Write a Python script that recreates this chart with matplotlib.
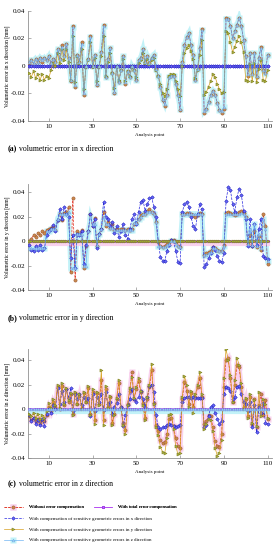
import numpy as np
import matplotlib
matplotlib.use("Agg")
import matplotlib.pyplot as plt
import matplotlib.lines as mlines
import matplotlib.transforms as mtransforms

plt.rcParams['font.family'] = ['Liberation Serif', 'DejaVu Serif']

# analysis points 1..110, errors in micrometres
points = list(range(1, 111))

# (a) x direction
a_without = [2, 4, 1, 5, 3, 6, 3, 6, 4, 7,
             2, 5, 3, 12, 5, 15, 7, 16, 6, -11,
             29, -15, 8, 3, 17, -21, 0, 5, 22, 0,
             8, -14, 0, 10, 30, -8, 5, 13, -5, -20,
             0, -12, -3, 7, -13, -4, -8, 0, -3, -10,
             4, 6, 12, 3, 7, 2, 6, 8, -2, -7,
             -15, -25, -29, -21, -8, -7, -7, -13, -21, -32,
             3, 15, 21, 24, 15, 8, -10, -2, 13, 27,
             -34, -31, -26, -21, -18, -21, -27, -32, -34, -31,
             35, 34, 29, 20, 25, 30, 35, 29, 19, 7,
             -7, 9, -6, 9, -8, 6, 14, -3, -5, 8]
a_total = [0.0] * 110
a_xcomp = [0.0] * 110
a_ycomp = [-5, -8, -4, -9, -6, -10, -6, -10, -7, -9,
           -3, 2, 0, 9, 2, 12, 4, 12, 3, -10,
           22, -12, 7, 2, 12, -17, -1, 4, 17, -1,
           6, -11, -1, 7, 22, -7, 3, 9, -5, -16,
           -1, -10, -3, 5, -11, -4, -7, -1, -3, -8,
           2, 4, 9, 2, 5, 1, 4, 6, -3, -7,
           -13, -20, -22, -17, -7, -6, -6, -11, -17, -22,
           0, 9, 13, 15, 11, 5, -9, -3, 8, 19,
           -21, -19, -15, -11, -6, -8, -13, -17, -20, -19,
           25, 24, 17, 10, 14, 18, 22, 17, 10, -10,
           -11, 1, -11, 2, -12, -2, 4, -10, -11, -3]
a_zcomp = [3, 4, 2, 5, 3, 6, 4, 6, 4, 7,
           2, 5, 3, 12, 5, 14, 7, 16, 6, -10,
           28, -14, 8, 3, 16, -20, 0, 5, 21, 0,
           8, -13, 0, 10, 29, -8, 5, 13, -5, -19,
           0, -12, -3, 7, -12, -4, -8, 0, -3, -10,
           4, 6, 12, 3, 7, 2, 6, 8, -2, -7,
           -15, -24, -28, -21, -8, -7, -7, -13, -21, -31,
           3, 15, 21, 24, 15, 8, -10, -2, 13, 26,
           -33, -31, -26, -21, -18, -21, -27, -32, -33, -30,
           34, 34, 29, 20, 25, 30, 35, 29, 19, 7,
           -6, 9, -6, 9, -7, 6, 13, -3, -5, 8]

# (b) y direction
b_without = [0, 2, 5, 3, 7, 5, 8, 7, 9, 10,
             11, 12, 9, 17, 22, 17, 23, 24, 28, -25,
             35, -32, 8, 6, 9, -22, -4, 8, 22, 12,
             19, -4, 6, 10, 24, 12, 16, 11, 14, 9,
             10, 9, 10, 10, 9, 10, 9, 10, 14, 15,
             18, 21, 22, 22, 25, 26, 24, 22, 16, -1,
             -4, -5, -4, -2, -1, 1, 1, -1, -4, -5,
             22, 22, 23, 22, 22, 21, 20, 21, 23, 22,
             -11, -10, -9, -8, -5, -6, -7, -8, -8, -3,
             23, 24, 23, 22, 21, 22, 24, 25, 23, 20,
             -2, 5, -4, 8, -5, 4, -7, 22, 12, -19]
b_total = [0.0] * 110
b_xcomp = [-3, -7, -8, -4, -7, -3, -7, -6, 5, 8,
           10, 13, 8, 17, 26, 18, 28, 22, 20, -14,
           5, -22, 6, 5, 8, -19, -3, 8, 22, 12,
           18, -6, 6, 10, 32, 20, 18, 12, 16, 7,
           12, 3, 8, 14, 5, 2, 10, 18, 22, 14,
           24, 32, 34, 25, 30, 35, 36, 28, 20, 0,
           -13, -16, -16, -8, -3, 1, 0, -8, -17, -18,
           24, 30, 32, 28, 20, 12, 10, 22, 30, 26,
           -21, -19, -14, -10, -5, -7, -12, -16, -17, -10,
           33, 44, 42, 30, 24, 36, 43, 38, 25, 18,
           -4, 18, -4, 14, -3, 10, 18, -12, -14, -15]
b_ycomp = [0.0] * 110
b_zcomp = [-6, -6, -6, -6, -6, -6, -6, -6, 8, 8,
           10, 10, 10, 18, 22, 22, 22, 22, 24, -22,
           -22, -22, 6, 6, 6, -20, -20, 8, 20, 14,
           14, -3, 6, 10, 20, 14, 14, 11, 11, 9,
           9, 9, 9, 9, 9, 9, 9, 9, 15, 15,
           18, 20, 22, 22, 24, 24, 24, 22, 16, -4,
           -4, -5, -5, -3, -2, 0, 0, -2, -4, -5,
           22, 22, 22, 22, 22, 22, 22, 22, 22, 22,
           -11, -11, -10, -9, -6, -6, -7, -8, -8, -4,
           22, 22, 22, 22, 22, 22, 22, 23, 22, 20,
           -2, 10, -3, 14, -4, 6, -6, 18, 10, -16]

# (c) z direction
c_without = [-6, -9, -7, -10, -8, -11, -9, -10, -5, 2,
             -2, 6, 2, 18, 0, 19, 3, 16, 6, 12,
             -4, 13, 4, 11, 1, 13, 6, 17, -4, 14,
             -9, 13, 4, 24, -9, 16, 2, 10, -11, -4,
             8, 21, 2, -11, -17, 4, 15, 30, 8, 16,
             23, 14, 5, -7, 8, 18, 32, 5, -13, -18,
             -25, -28, -27, -20, -8, -7, -14, -24, -30, -32,
             8, 22, 15, 4, 13, 2, 10, 18, 25, 10,
             -12, -10, -5, -6, -15, -26, -30, -31, -20, 18,
             40, 42, 25, 6, 20, 36, 34, 18, 2, 8,
             -6, 10, -12, 8, -15, 3, 12, -5, 7, -8]
c_total = [0.0] * 110
c_xcomp = [-5, -10, -7, -12, -9, -13, -8, -14, -4, 0,
           -3, 3, 0, 17, 4, 15, 6, 16, 9, 17,
           -2, 12, 8, 12, 3, 10, 8, 9, -6, 12,
           -2, 10, 6, 12, -1, 14, 4, 6, -4, 2,
           5, 12, 2, -14, -5, 3, 8, 16, 8, 6,
           10, 15, 8, 2, 10, 19, 20, 14, -5, -15,
           -16, -15, -15, -13, -12, -13, -14, -15, -14, -13,
           6, 9, 10, 10, 9, 10, 9, 9, 9, 9,
           -15, -13, -6, 2, 3, -3, -8, -12, -10, 12,
           18, 17, 15, 8, 10, 18, 19, 12, 6, 4,
           -2, 6, -15, 3, -19, 2, -3, 5, -11, -12]
c_ycomp = [-4, -6, -3, -7, -4, -8, -5, -7, -2, 5,
           1, 8, 3, 20, 1, 21, 4, 17, 7, 13,
           -5, 14, 4, 12, 0, 14, 6, 19, -5, 16,
           -12, 14, 3, 32, -13, 19, 1, 11, -13, -5,
           9, 24, 0, -13, -20, 3, 17, 26, 9, 18,
           25, 15, 3, -9, 10, 20, 37, 4, -15, -21,
           -31, -35, -36, -24, -5, -4, -16, -30, -37, -36,
           10, 27, 20, 2, 15, -3, 12, 20, 30, 12,
           -16, -12, -8, -9, -18, -32, -38, -36, -25, 25,
           49, 40, 28, 6, 24, 42, 36, 21, 0, 9,
           -7, 12, -11, 7, -14, 14, -6, 8, 4, -7]
c_zcomp = [0.0] * 110

panels = [
    ("x", a_without, a_total, a_xcomp, a_ycomp, a_zcomp),
    ("y", b_without, b_total, b_xcomp, b_ycomp, b_zcomp),
    ("z", c_without, c_total, c_xcomp, c_ycomp, c_zcomp),
]
captions = ["volumetric error in x direction",
            "volumetric error in y direction",
            "volumetric error in z direction"]
caption_tags = ["(a)", "(b)", "(c)"]
legend_labels = ["Without error compensation",
                 "With total error compensation",
                 "With compensation of sensitive geometric errors in x direction",
                 "With compensation of sensitive geometric errors in y direction",
                 "With compensation of sensitive geometric errors in z direction"]

# axes boxes [left, bottom, width, height] and y limits
boxes = [[0.102, 0.780, 0.887, 0.2005],
         [0.102, 0.4727, 0.887, 0.1933],
         [0.102, 0.1673, 0.887, 0.198]]
ylims = [(-0.04, 0.04), (-0.04, 0.047), (-0.04, 0.049)]
caption_y = [1 - 149 / 550, 1 - 318 / 550, 1 - 484 / 550]

pink = '#f9d2ee'
cyan = '#c2f2f8'

fig = plt.figure(figsize=(2.75, 5.5), dpi=100)
handles = None
for i, (d, wo, tot, xc, yc, zc) in enumerate(panels):
    ax = fig.add_axes(boxes[i])
    x = np.array(points)
    wo = np.array(wo) / 1000
    tot = np.array(tot) / 1000
    xc = np.array(xc) / 1000
    yc = np.array(yc) / 1000
    zc = np.array(zc) / 1000
    shift = mtransforms.offset_copy(ax.transData, fig=fig, x=0, y=-2.5, units='dots')

    # light halos behind some curves
    if d == 'x':
        ax.plot(x, zc, color=cyan, lw=3.5, marker='s', ms=4.5, mec='none',
                solid_joinstyle='miter', zorder=1)
    if d == 'y':
        ax.plot(x, zc, color=cyan, lw=3.5, marker='s', ms=4.5, mec='none',
                solid_joinstyle='miter', zorder=1)
        ax.plot(x, yc, color=pink, lw=3, transform=shift, zorder=1)
    if d == 'z':
        ax.plot(x, wo, color=pink, lw=3.5, marker='s', ms=4.5, mec='none',
                solid_joinstyle='miter', zorder=1)
        ax.plot(x, zc, color=cyan, lw=3, transform=shift, zorder=1)

    h_wo, = ax.plot(x, wo, color='#e03020', ls='--', lw=0.5, marker='o', ms=2.3,
                    mfc='#c88a50', mec='#a05a30', mew=0.4, zorder=3)
    h_tot, = ax.plot(x, tot, color='#b040f0', lw=0.5, marker='o', ms=1.8,
                     mfc='#c070ff', mec='#9020e0', mew=0.4, zorder=4)
    h_xc, = ax.plot(x, xc, color='#2828e0', ls='--', lw=0.5, marker='D', ms=1.8,
                    mfc='#6a6af8', mec='#2020c0', mew=0.4, zorder=5)
    h_yc, = ax.plot(x, yc, color='#d8a020', lw=0.5, marker='>', ms=2.2,
                    mfc='#a8b040', mec='#808020', mew=0.4, zorder=6)
    h_zc, = ax.plot(x, zc, color='#58a8f0', lw=0.5, marker='^', ms=2.0,
                    mfc='#a8d0f8', mec='#70a8e0', mew=0.4, alpha=0.85, zorder=7)
    if handles is None:
        halo_p = mlines.Line2D([], [], ls='none', marker='s', ms=5, color=pink, mec='none')
        halo_c = mlines.Line2D([], [], ls='none', marker='s', ms=5, color=cyan, mec='none')
        handles = [(halo_p, h_wo), h_tot, h_xc, h_yc, (halo_c, h_zc)]

    ax.set_xlim(0.5, 112)
    ax.set_ylim(*ylims[i])
    ax.set_xticks([10, 30, 50, 70, 90, 110])
    ax.set_yticks([-0.04, -0.02, 0, 0.02, 0.04])
    ax.set_yticklabels(["-0.04", "-0.02", "0", "0.02", "0.04"])
    for s in ['top', 'right']:
        ax.spines[s].set_visible(False)
    for s in ['left', 'bottom']:
        ax.spines[s].set_color('#909090')
        ax.spines[s].set_linewidth(0.6)
    ax.tick_params(direction='in', length=2, width=0.5, color='#909090',
                   labelsize=5, pad=2)
    ax.set_xlabel("Analysis point", fontsize=3.6)
    ax.xaxis.set_label_coords(0.5, -0.11)
    ax.set_ylabel("Volumetric error in %s direction [mm]" % d, fontsize=4.0)
    ax.yaxis.set_label_coords(-0.075, 0.5)
    t = fig.text(8 / 275, caption_y[i], caption_tags[i], fontsize=5.6,
                 fontweight='bold', va='center', ha='left')
    fig.text(19 / 275, caption_y[i], captions[i], fontsize=5.6, va='center', ha='left')

leg1 = fig.legend(handles[:2], legend_labels[:2], loc='upper left', ncol=2,
                  bbox_to_anchor=(0.015, 1 - 505 / 550), frameon=False, fontsize=3.5,
                  handlelength=3.8, handletextpad=1.3, columnspacing=2.0,
                  borderaxespad=0, borderpad=0)
leg2 = fig.legend(handles[2:], legend_labels[2:], loc='upper left', ncol=1,
                  bbox_to_anchor=(0.015, 1 - 516.5 / 550), frameon=False, fontsize=3.5,
                  handlelength=3.8, handletextpad=1.3, labelspacing=1.3,
                  borderaxespad=0, borderpad=0)
fig.add_artist(leg1)

fig.savefig("out.png", dpi=100)
